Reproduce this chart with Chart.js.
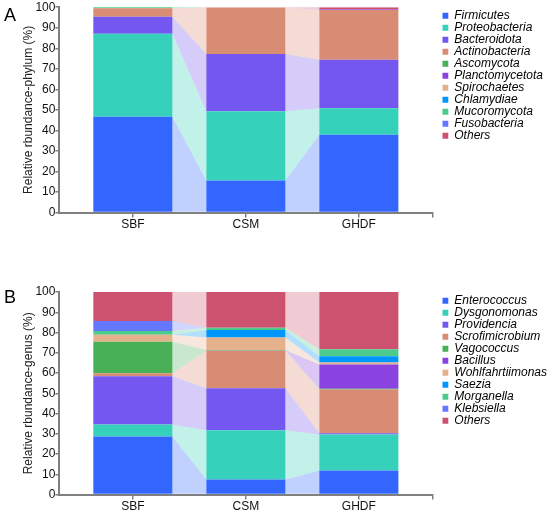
<!DOCTYPE html>
<html><head><meta charset="utf-8">
<script src="https://cdn.jsdelivr.net/npm/chart.js@4.4.0/dist/chart.umd.min.js"></script>
<style>
html,body{margin:0;padding:0;background:#fff;}
#wrap{position:relative;width:550px;height:514px;overflow:hidden;}
.panel{position:absolute;left:0;width:550px;}
#pa{top:0;height:257px;}
#pb{top:257px;height:257px;}
.letter{position:absolute;font-family:Arial,'Liberation Sans',sans-serif;font-size:18px;line-height:1;color:#000;}
</style></head>
<body><div id="wrap">
<div class="panel" id="pa"><canvas id="ca"></canvas></div>
<div class="panel" id="pb"><canvas id="cb"></canvas></div>
<div class="letter" style="left:4px;top:6px">A</div>
<div class="letter" style="left:4px;top:288px">B</div>
</div>
<script>
// ---- data ----
const categories = ['SBF', 'CSM', 'GHDF'];
const yTicks = [0,10,20,30,40,50,60,70,80,90,100];

// Phylum level (A)
const phylumNames = ['Firmicutes','Proteobacteria','Bacteroidota','Actinobacteria','Ascomycota','Planctomycetota','Spirochaetes','Chlamydiae','Mucoromycota','Fusobacteria','Others'];
const firmicutes      = [46.7, 15.6, 37.9];
const proteobacteria  = [40.4, 33.7, 12.9];
const bacteroidota    = [8.2, 27.9, 23.6];
const actinobacteria  = [4.2, 22.6, 24.3];
const ascomycota      = [0.1, 0.0, 0.0];
const planctomycetota = [0.0, 0.0, 0.4];
const spirochaetes    = [0.0, 0.1, 0.0];
const chlamydiae      = [0.0, 0.0, 0.0];
const mucoromycota    = [0.6, 0.0, 0.0];
const fusobacteria    = [0.0, 0.0, 0.0];
const othersPhylum    = [0.0, 0.1, 0.9];

// Genus level (B)
const genusNames = ['Enterococcus','Dysgonomonas','Providencia','Scrofimicrobium','Vagococcus','Bacillus','Wohlfahrtiimonas','Saezia','Morganella','Klebsiella','Others'];
const enterococcus     = [28.7, 7.5, 11.9];
const dysgonomonas     = [5.9, 24.3, 17.8];
const providencia      = [23.8, 20.7, 0.6];
const scrofimicrobium  = [1.5, 18.5, 21.6];
const vagococcus       = [15.5, 0.2, 0.3];
const bacillus         = [0.0, 0.2, 12.0];
const wohlfahrtiimonas = [3.5, 6.2, 1.0];
const saezia           = [0.0, 3.6, 3.1];
const morganella       = [1.8, 1.2, 3.5];
const klebsiella       = [5.0, 0.0, 0.0];
const othersGenus      = [14.3, 17.6, 28.2];

const phylumValues = [firmicutes, proteobacteria, bacteroidota, actinobacteria, ascomycota, planctomycetota, spirochaetes, chlamydiae, mucoromycota, fusobacteria, othersPhylum];
const genusValues = [enterococcus, dysgonomonas, providencia, scrofimicrobium, vagococcus, bacillus, wohlfahrtiimonas, saezia, morganella, klebsiella, othersGenus];

// ---- styles ----
const palette = ['#3366ff','#35d1ba','#7357f0','#d98c74','#48b057','#8a42e0','#e5b08c','#0096ff','#4ccc8c','#6478ff','#cc5270'];
const FONT = "Arial, 'Liberation Sans', sans-serif";
const LEGEND_GAP = 10;
const X_MIN = -0.65, X_MAX = 2.65;
// bar sizing: Chart.js measures the smallest tick spacing (2 -> X_MAX), so scale to 70% of a category
const BAR_PCT = 0.7 / (X_MAX - 2);

function hexA(hex, a){
  const n = parseInt(hex.slice(1),16);
  return `rgba(${(n>>16)&255},${(n>>8)&255},${n&255},${a})`;
}

const flowPlugin = {
  id:'flows',
  beforeDatasetsDraw(chart){
    const ctx = chart.ctx;
    ctx.save();
    chart.data.datasets.forEach((ds, di) => {
      const meta = chart.getDatasetMeta(di);
      for (let i = 0; i < meta.data.length - 1; i++){
        const a = meta.data[i], b = meta.data[i+1];
        if ((ds.data[i].y || 0) === 0 && (ds.data[i+1].y || 0) === 0) continue;
        const x1 = a.x + a.width/2, x2 = b.x - b.width/2;
        ctx.beginPath();
        ctx.moveTo(x1, a.y);
        ctx.lineTo(x2, b.y);
        ctx.lineTo(x2, b.base);
        ctx.lineTo(x1, a.base);
        ctx.closePath();
        ctx.fillStyle = hexA(palette[di], 0.3);
        ctx.fill();
      }
    });
    ctx.restore();
  }
};

function makeChart(id, names, values, yTitle, pad, legendOffset, xPad){
  const datasets = names.map((n, k) => ({
    label: n,
    data: values[k].map((v, i) => ({x: i, y: v})),
    backgroundColor: palette[k],
    borderWidth: 0,
    barPercentage: BAR_PCT,
    categoryPercentage: 1.0
  }));
  const chart = new Chart(document.getElementById(id), {
    type: 'bar',
    data: { datasets },
    plugins: [flowPlugin],
    options: {
      responsive: true,
      maintainAspectRatio: false,
      animation: false,
      events: [],
      layout: { padding: pad },
      scales: {
        x: {
          type: 'linear', stacked: true, min: X_MIN, max: X_MAX, offset: false,
          afterBuildTicks(s){ s.ticks = [0,1,2,X_MAX].map(v => ({value: v})); },
          ticks: { callback: (v) => categories[v] || '', color:'#111', font:{family:FONT, size:12}, padding: xPad, maxRotation:0, autoSkip:false },
          grid: { offset: false, drawOnChartArea: false, tickLength: 5, color:'#808080', lineWidth: 1.5 },
          border: { color:'#808080', width: 2 }
        },
        y: {
          stacked: true, min: 0, max: 100,
          afterBuildTicks(s){ s.ticks = yTicks.map(v => ({value: v})); },
          ticks: { color:'#111', font:{family:FONT, size:12}, padding: 0 },
          grid: { drawOnChartArea: false, tickLength: 4, color:'#808080', lineWidth: 1.5 },
          border: { color:'#808080', width: 2 },
          title: { display: true, text: yTitle, color:'#222', font:{family:FONT, size:12}, padding:{top:0, bottom:0} }
        }
      },
      plugins: {
        tooltip: { enabled: false },
        legend: {
          position: 'right', align: 'start',
          title: { display: true, text: '', font:{size:1, lineHeight:1}, padding:{top: legendOffset, bottom: 0} },
          labels: { boxWidth: 6, boxHeight: 6, padding: 0, color:'#000', font:{family:FONT, size:12, style:'italic'} }
        }
      }
    }
  });
  // leave a small gap between the plot area and the legend
  const L = chart.legend;
  const origFit = L.fit.bind(L);
  L.fit = function(){ origFit(); this.width += LEGEND_GAP; };
  const origDraw = L.draw.bind(L);
  L.draw = function(){ this.left += LEGEND_GAP; origDraw(); this.left -= LEGEND_GAP; };
  chart.update();
  return chart;
}

makeChart('ca', phylumNames, phylumValues, 'Relative rbundance-phylum (%)', {left: 21, right: -3, top: 1, bottom: 25}, 7.7, 0);
makeChart('cb', genusNames, genusValues, 'Relative rbundance-genus (%)', {left: 21, right: -7, top: 35, bottom: 0}, 1.7, 0);
</script>
</body></html>
